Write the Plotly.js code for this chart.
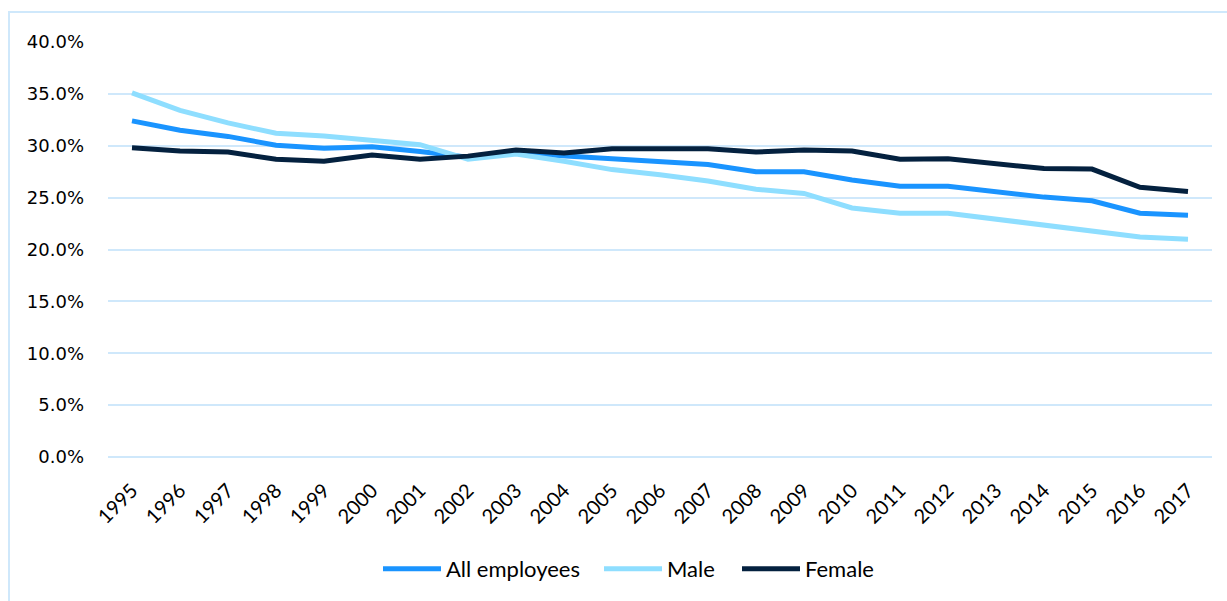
<!DOCTYPE html>
<html>
<head>
<meta charset="utf-8">
<script src="https://cdn.plot.ly/plotly-3.0.1.min.js"></script>
<style>
  html, body { margin: 0; padding: 0; background: #ffffff; }
  #chart { width: 1227px; height: 601px; }
</style>
</head>
<body>
<div id="chart"></div>
<script>
const years = ['1995','1996','1997','1998','1999','2000','2001','2002','2003','2004','2005','2006','2007','2008','2009','2010','2011','2012','2013','2014','2015','2016','2017'];
const allEmployees = [0.324,0.315,0.309,0.3005,0.2975,0.299,0.2945,0.289,0.293,0.290,0.287,0.285,0.282,0.275,0.275,0.267,0.261,0.261,0.256,0.2505,0.247,0.235,0.233];
const male = [0.351,0.334,0.322,0.312,0.3095,0.305,0.301,0.287,0.292,0.285,0.277,0.272,0.266,0.258,0.254,0.240,0.235,0.235,0.229,0.223,0.218,0.212,0.210];
const female = [0.298,0.295,0.294,0.287,0.285,0.291,0.287,0.290,0.296,0.293,0.297,0.297,0.297,0.294,0.296,0.295,0.287,0.2875,0.283,0.278,0.2775,0.260,0.256];
const yTicks = [0,0.05,0.10,0.15,0.20,0.25,0.30,0.35,0.40];

const gridColor = '#cfe8fb';

const traces = [
  {name: 'All employees', x: years, y: allEmployees, type: 'scatter', mode: 'lines',
   line: {color: '#1a94ff', width: 5}, legend: 'legend'},
  {name: 'Male', x: years, y: male, type: 'scatter', mode: 'lines',
   line: {color: '#8edeff', width: 5}, legend: 'legend2'},
  {name: 'Female', x: years, y: female, type: 'scatter', mode: 'lines',
   line: {color: '#04213f', width: 5}, legend: 'legend3'}
];

function legendAt(px) {
  return {orientation: 'h', x: (px - 108) / 1104, xanchor: 'left', y: -0.267, yanchor: 'middle',
          font: {family: 'Lato, sans-serif', size: 22, color: '#000'},
          itemwidth: 58, bgcolor: 'rgba(0,0,0,0)', borderwidth: 0};
}

const layout = {
  width: 1227, height: 601,
  margin: {l: 108, r: 15, t: 42, b: 143},
  paper_bgcolor: '#ffffff', plot_bgcolor: '#ffffff',
  showlegend: true,
  legend: legendAt(378),
  legend2: legendAt(599),
  legend3: legendAt(737),
  xaxis: {type: 'category', range: [-0.5, 22.5], tickangle: -45, showgrid: false, zeroline: false,
          showline: false, ticks: '', ticklabelstandoff: 17,
          tickfont: {family: 'Lato, sans-serif', size: 20, color: '#000'}},
  yaxis: {range: [0, 0.40], tickvals: yTicks, tickformat: '.1%',
          showgrid: true, gridcolor: gridColor, gridwidth: 2,
          zeroline: true, zerolinecolor: gridColor, zerolinewidth: 2,
          showline: false, ticks: '', ticklabelstandoff: 23,
          tickfont: {family: 'DejaVu Sans, sans-serif', size: 18, color: '#000'}},
  shapes: [{type: 'rect', xref: 'paper', yref: 'paper',
            x0: (9 - 108) / 1104, x1: 1.05, y0: -0.4, y1: (458 - 12) / 416,
            line: {color: gridColor, width: 2}, fillcolor: 'rgba(0,0,0,0)', layer: 'below'}]
};

Plotly.newPlot('chart', traces, layout, {displayModeBar: false, staticPlot: true});
</script>
</body>
</html>
